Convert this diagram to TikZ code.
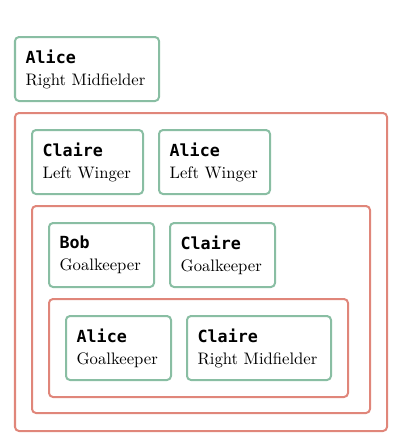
\documentclass[tikz,border=0pt]{standalone}
\usepackage{fontspec}
\setmainfont{lmroman10-regular}[Extension=.otf]
\setmonofont{DejaVu Sans Mono}
\definecolor{cardgreen}{RGB}{137,190,163}
\definecolor{groupred}{RGB}{224,134,122}
\newcommand{\pname}[1]{{\ttfamily\bfseries #1}}
\tikzset{
  card/.style={draw=cardgreen, line width=1.5pt, rounded corners=3pt, fill=white,
    anchor=north west, minimum height=48pt, inner xsep=8pt, inner ysep=0pt,
    align=left, font=\fontsize{12.5}{16.5}\selectfont},
  group/.style={draw=groupred, line width=1.5pt, rounded corners=3pt,
    anchor=north west, inner sep=0pt}
}
\begin{document}
\begin{tikzpicture}[x=0.75pt,y=-0.75pt]
\useasboundingbox (0,0) rectangle (400,444);
% groups
\node[group, minimum width=279pt, minimum height=238.5pt] (g1) at (14,112) {};
\node[group, minimum width=253.5pt, minimum height=155.25pt] (g2) at (31,205) {};
\node[group, minimum width=224.25pt, minimum height=73.5pt] (g3) at (48,298) {};
% cards
\node[card, minimum width=108pt, text width=92pt] (a1) at (14,36) {\pname{Alice}\\Right Midfielder};
\node[card, minimum width=83.25pt, text width=67.25pt] (c1) at (31,129) {\pname{Claire}\\Left Winger};
\node[card, minimum width=83.25pt, text width=67.25pt] (a2) at (158,129) {\pname{Alice}\\Left Winger};
\node[card, minimum width=78.75pt, text width=62.75pt] (b1) at (48,222) {\pname{Bob}\\Goalkeeper};
\node[card, minimum width=78.75pt, text width=62.75pt] (c2) at (169,222) {\pname{Claire}\\Goalkeeper};
\node[card, minimum width=78.75pt, text width=62.75pt] (a3) at (65,315) {\pname{Alice}\\Goalkeeper};
\node[card, minimum width=108pt, text width=92pt] (c3) at (186,315) {\pname{Claire}\\Right Midfielder};
\end{tikzpicture}
\end{document}
